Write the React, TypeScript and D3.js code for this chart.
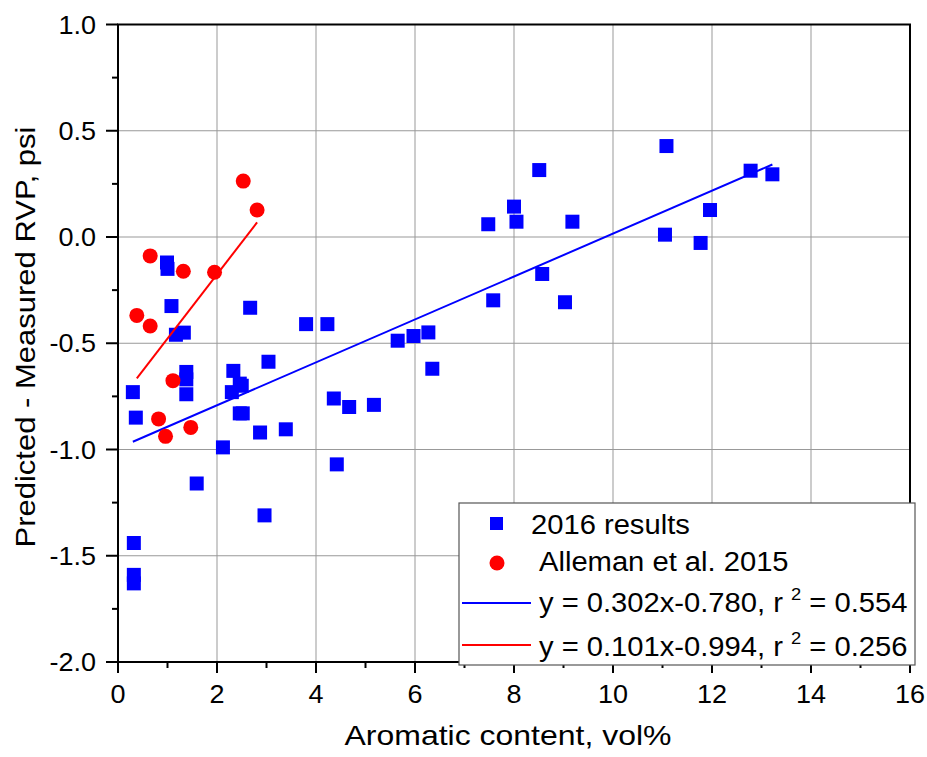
import React from 'react'
import * as d3 from 'd3'

// 2016 results (blue squares)
const blueX = [0.30, 0.36, 0.32, 0.32, 0.32, 0.99, 1.00, 1.08, 1.17, 1.33, 1.38, 1.38, 1.38, 1.59, 2.12, 2.30, 2.33, 2.46, 2.50, 2.46, 2.52, 2.67, 2.87, 2.96, 3.04, 3.39, 3.80, 4.23, 4.36, 4.42, 4.67, 5.17, 5.65, 5.97, 6.27, 6.35, 7.48, 7.58, 8.00, 8.05, 8.51, 8.57, 9.03, 9.18, 11.05, 11.08, 11.77, 11.96, 12.78, 13.22]
const blueY = [-0.73, -0.85, -1.44, -1.59, -1.63, -0.12, -0.15, -0.325, -0.46, -0.45, -0.635, -0.67, -0.74, -1.16, -0.99, -0.73, -0.63, -0.69, -0.70, -0.83, -0.83, -0.333, -0.92, -1.31, -0.587, -0.905, -0.41, -0.41, -0.76, -1.07, -0.80, -0.79, -0.488, -0.466, -0.449, -0.62, 0.06, -0.298, 0.143, 0.072, 0.315, -0.174, -0.307, 0.072, 0.011, 0.428, -0.028, 0.127, 0.312, 0.295]

// Alleman et al. 2015 (red circles)
const redX = [0.38, 0.65, 0.65, 0.82, 0.96, 1.11, 1.32, 1.47, 1.95, 2.53, 2.81]
const redY = [-0.369, -0.089, -0.419, -0.856, -0.938, -0.676, -0.161, -0.896, -0.166, 0.263, 0.127]

// fit lines: [slope, intercept, xStart, xEnd]
const blueFit = [0.101, -0.994, 0.30, 13.22]
const redFit = [0.302, -0.780, 0.38, 2.81]

const xTicks = [0, 2, 4, 6, 8, 10, 12, 14, 16]
const yTicks = [1.0, 0.5, 0.0, -0.5, -1.0, -1.5, -2.0]
const xMinor = [1, 3, 5, 7, 9, 11, 13, 15]
const yMinor = [0.75, 0.25, -0.25, -0.75, -1.25, -1.75]

const legendLabels = ['2016 results', 'Alleman et al. 2015']
const legendFits = [['y = 0.302x-0.780, r ', '2', ' = 0.554'], ['y = 0.101x-0.994, r ', '2', ' = 0.256']]

const BLUE = '#0000ff'
const RED = '#ff0000'
const FONT = '"Liberation Sans", Arial, sans-serif'

export default function App() {
  const layout = { width: 927, height: 757, left: 118, right: 910, top: 24.5, bottom: 662 }

  const x = d3.scaleLinear().domain([0, 16]).range([layout.left, layout.right])
  const y = d3.scaleLinear().domain([-2, 1]).range([layout.bottom, layout.top])

  const fitLine = (f: number[]) => d3.line<number>()
    .x(d => x(d))
    .y(d => y(f[0] * d + f[1]))([f[2], f[3]]) as string

  const blue = blueX.map((v, i) => ({ x: v, y: blueY[i] }))
  const red = redX.map((v, i) => ({ x: v, y: redY[i] }))

  const fmt = (t: number) => t.toFixed(1)
  const sx = 1.08

  const lg = { x: 459, y: 503, w: 456, h: 162 }

  return (
    <svg width={layout.width} height={layout.height} style={{ position: 'absolute', left: 0, top: 0, background: '#fff' }} fontFamily={FONT}>
      {/* grid */}
      <g stroke="#999" strokeWidth={1}>
        {xTicks.slice(1, -1).map(t => <line key={'gx' + t} x1={x(t)} x2={x(t)} y1={layout.top} y2={layout.bottom} />)}
        {yTicks.slice(1, -1).map(t => <line key={'gy' + t} x1={layout.left} x2={layout.right} y1={y(t)} y2={y(t)} />)}
      </g>

      {/* ticks */}
      <g stroke="#000" strokeWidth={2}>
        {xTicks.map(t => <line key={'tx' + t} x1={x(t)} x2={x(t)} y1={layout.bottom} y2={layout.bottom + 11} />)}
        {xMinor.map(t => <line key={'mx' + t} x1={x(t)} x2={x(t)} y1={layout.bottom} y2={layout.bottom + 6} />)}
        {yTicks.map(t => <line key={'ty' + t} x1={layout.left - 12} x2={layout.left} y1={y(t)} y2={y(t)} />)}
        {yMinor.map(t => <line key={'my' + t} x1={layout.left - 6} x2={layout.left} y1={y(t)} y2={y(t)} />)}
      </g>

      {/* frame */}
      <rect x={layout.left} y={layout.top} width={layout.right - layout.left} height={layout.bottom - layout.top} fill="none" stroke="#000" strokeWidth={2} />

      {/* tick labels */}
      <g fontSize={25} fill="#000">
        {xTicks.map(t => <text key={'lx' + t} transform={`translate(${x(t)},703) scale(${sx},1)`} textAnchor="middle">{t}</text>)}
        {yTicks.map(t => <text key={'ly' + t} transform={`translate(96,${y(t)}) scale(${sx},1)`} dy="0.36em" textAnchor="end">{fmt(t)}</text>)}
      </g>

      {/* axis titles */}
      <text x={508} y={745} fontSize={28} textAnchor="middle" textLength={327} lengthAdjust="spacingAndGlyphs">Aromatic content, vol%</text>
      <text transform="translate(35,337) rotate(-90)" fontSize={28} textAnchor="middle" textLength={421} lengthAdjust="spacingAndGlyphs">Predicted - Measured RVP, psi</text>

      {/* data */}
      <g fill={BLUE}>
        {blue.map((d, i) => <rect key={'b' + i} x={x(d.x) - 7} y={y(d.y) - 7} width={14} height={14} />)}
      </g>
      <path d={fitLine(blueFit)} stroke={BLUE} strokeWidth={2} fill="none" />
      <path d={fitLine(redFit)} stroke={RED} strokeWidth={2} fill="none" />
      <g fill={RED}>
        {red.map((d, i) => <circle key={'r' + i} cx={x(d.x)} cy={y(d.y)} r={7.5} />)}
      </g>

      {/* legend */}
      <g>
        <rect x={lg.x} y={lg.y} width={lg.w} height={lg.h} fill="#fff" stroke="#555" strokeWidth={1.2} />
        <rect x={490} y={517} width={13} height={13} fill={BLUE} />
        <circle cx={497} cy={563} r={7.5} fill={RED} />
        <line x1={462} x2={531} y1={603} y2={603} stroke={BLUE} strokeWidth={2} />
        <line x1={462} x2={531} y1={645} y2={645} stroke={RED} strokeWidth={2} />
        <g fontSize={27} fill="#000">
          <text transform={`translate(531,534) scale(${sx},1)`}>{legendLabels[0]}</text>
          <text transform={`translate(539,571) scale(${sx},1)`}>{legendLabels[1]}</text>
          {legendFits.map((f, i) => (
            <text key={'lf' + i} transform={`translate(539,${i === 0 ? 612 : 656}) scale(${sx},1)`}>
              {f[0]}<tspan fontSize={17} dy={-12}>{f[1]}</tspan><tspan dy={12}>{f[2]}</tspan>
            </text>
          ))}
        </g>
      </g>
    </svg>
  )
}
